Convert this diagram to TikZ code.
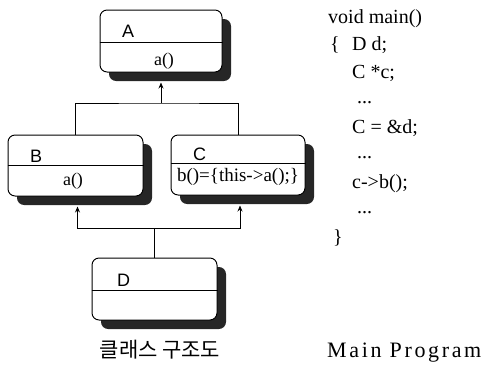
\documentclass[tikz,border=0pt]{standalone}
\usepackage{fontspec}
\setmainfont{Liberation Serif}
\setsansfont{Liberation Sans}
\newfontfamily\hangul{Noto Sans CJK KR}
\newfontfamily\spacedserif[LetterSpace=12]{Liberation Serif}
\usetikzlibrary{shadows,arrows.meta}

\begin{document}
\begin{tikzpicture}[
    x=1pt, y=-1pt,
    cls/.style={rectangle, draw=black, line width=1pt, rounded corners=2.5mm, fill=white, inner sep=0pt,
        drop shadow={shadow xshift=9pt, shadow yshift=-9pt, fill=black!85, opacity=1}},
    title/.style={font=\sffamily\fontsize{18}{18}\selectfont, anchor=base west, inner sep=0pt},
    method/.style={font=\fontsize{18}{18}\selectfont, inner sep=0pt},
    link/.style={line width=0.9pt},
    inh/.style={link, -{Stealth[length=6pt, width=5pt]}},
    code/.style={font=\fontsize{20}{20}\selectfont, anchor=base west, inner sep=0pt}
]
\useasboundingbox (0,0) rectangle (491,365);

% Classes
\node[cls, minimum width=122pt, minimum height=62pt] (clsA) at (161, 41)  {};
\node[cls, minimum width=135pt, minimum height=61pt] (clsB) at (75.5, 165.5) {};
\node[cls, minimum width=134pt, minimum height=60pt] (clsC) at (238, 165) {};
\node[cls, minimum width=125pt, minimum height=62pt] (clsD) at (154.5, 289) {};

% Dividers
\coordinate (divA) at (0, 42);
\coordinate (divB) at (0, 165);
\coordinate (divC) at (0, 163);
\coordinate (divD) at (0, 290);
\draw[link] (clsA.west |- divA) -- (clsA.east |- divA);
\draw[link] (clsB.west |- divB) -- (clsB.east |- divB);
\draw[link] (clsC.west |- divC) -- (clsC.east |- divC);
\draw[link] (clsD.west |- divD) -- (clsD.east |- divD);

% Class names and methods
\node[title] (ttlA) at (122, 37)  {A};
\node[title] (ttlB) at (30, 162)  {B};
\node[title] (ttlC) at (193, 160) {C};
\node[title] (ttlD) at (117, 286) {D};
\node[method] (mthA) at (164, 61)  {a()};
\node[method] (mthB) at (73, 181)  {a()};
\node[method, font=\fontsize{19}{19}\selectfont] (mthC) at (238, 177) {b()=\{this->a();\}};

% Inheritance
\coordinate (busA) at (clsA.south |- 0,103);
\coordinate (busD) at (clsD.north |- 0,228);
\draw[link] (clsB.north) |- (busA) -| (clsC.north);
\draw[inh] (busA) -- ([yshift=-10pt]clsA.south);
\draw[link] (clsD.north) -- (busD);
\draw[inh] (busD) -| ([xshift=2pt, yshift=-10pt]clsB.south);
\draw[inh] (busD) -| ([xshift=2pt, yshift=-10pt]clsC.south);

\node[font=\hangul\fontsize{21}{21}\selectfont, inner sep=0pt] (capCls) at (160, 350) {클래스 구조도};

% Main program
\node[code] (ln1) at (328, 23)    {void main()};
\node[code] (ln2) at (330, 50.5)  {\{};
\node[code] (ln2b) at (352, 50.5) {D d;};
\node[code] (ln3) at (352, 78)    {C *c;};
\node[code] (ln4) at (357, 103)   {...};
\node[code] (ln5) at (352, 133)   {C = \&d;};
\node[code] (ln6) at (357, 158)   {...};
\node[code] (ln7) at (352, 188)   {c->b();};
\node[code] (ln8) at (357, 213)   {...};
\node[code] (ln9) at (333, 243)   {\}};
\node[code, font=\spacedserif\fontsize{22}{22}\selectfont] (capMain) at (327, 357) {Main Program};
\end{tikzpicture}
\end{document}
